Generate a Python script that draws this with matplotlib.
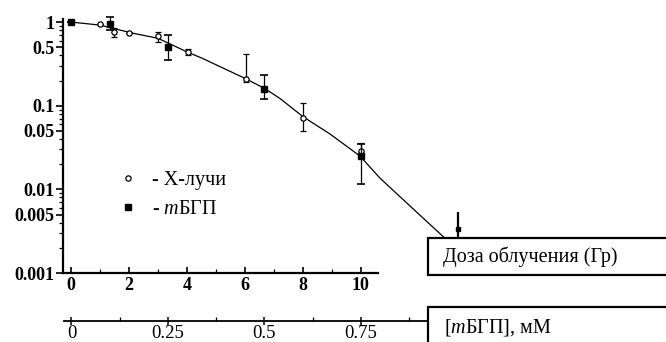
import matplotlib
matplotlib.use('Agg')
import matplotlib.pyplot as plt
from matplotlib.lines import Line2D
from matplotlib.patches import Rectangle

plt.rcParams['font.family'] = ['Liberation Serif', 'DejaVu Serif']
plt.rcParams['mathtext.fontset'] = 'custom'
plt.rcParams['mathtext.rm'] = 'Liberation Serif'
plt.rcParams['mathtext.it'] = 'Liberation Serif:italic'

# X-rays (open circles): dose (Gy), surviving fraction, error limits
xray_dose = [1.0, 1.5, 2.0, 3.0, 4.05, 6.05, 8.0, 10.0]
xray_surv = [0.95, 0.77, 0.74, 0.68, 0.435, 0.21, 0.072, 0.029]
xray_low = [0.95, 0.66, 0.74, 0.57, 0.40, 0.19, 0.050, 0.026]
xray_high = [0.95, 0.85, 0.74, 0.76, 0.48, 0.42, 0.108, 0.036]

# mBGP (filled squares): concentration (mM), surviving fraction, error limits
mbgp_conc = [0.0, 0.1, 0.25, 0.5, 0.75]
mbgp_surv = [1.0, 0.95, 0.51, 0.16, 0.025]
mbgp_low = [1.0, 0.80, 0.35, 0.12, 0.0115]
mbgp_high = [1.0, 1.15, 0.70, 0.236, 0.035]

# point at 1 mM shown as an upper limit (arrow into the box)
limit_conc = [1.0]
limit_surv = [0.0034]
limit_top = [0.0054]
limit_bottom = [0.0025]

# fitted curve
curve_dose = [0, 1.0, 2.1, 3.0, 4.03, 4.52, 6.03, 6.69, 7.21, 8.0, 8.93, 9.97, 10.66, 11.79, 12.9]
curve_surv = [1.0, 0.92, 0.74, 0.64, 0.435, 0.37, 0.21, 0.16, 0.122, 0.074, 0.046, 0.025, 0.0136, 0.0059, 0.0026]

# 0.75 mM sits under 10 Gy
dose_per_mm = 10 / 0.75

ytick_vals = [1, 0.5, 0.1, 0.05, 0.01, 0.005, 0.001]
ytick_labels = ['1', '0.5', '0.1', '0.05', '0.01', '0.005', '0.001']
xtick_vals = [0, 2, 4, 6, 8, 10]
conc_ticks = [0, 0.25, 0.5, 0.75]
conc_labels = ['0', '0.25', '0.5', '0.75']

W, H = 666, 342
fig = plt.figure(figsize=(W / 100, H / 100), dpi=100)


def fx(px):
    return px / W


def fy(py):
    return (H - py) / H


ax = fig.add_axes([fx(63), fy(273), (378 - 63) / W, (273 - 18.6) / H])
ax.set_yscale('log')
ax.set_xlim(-0.276, 10.59)
ax.set_ylim(0.001, 1.1)
for s in ['top', 'right']:
    ax.spines[s].set_visible(False)
for s in ['left', 'bottom']:
    ax.spines[s].set_linewidth(1.6)

ax.plot(curve_dose, curve_surv, color='black', lw=0.9, clip_on=False, zorder=2)

xl = [s - l for s, l in zip(xray_surv, xray_low)]
xh = [h - s for s, h in zip(xray_surv, xray_high)]
eb1 = ax.errorbar(xray_dose, xray_surv, yerr=[xl, xh], fmt='o', ms=3.8, mfc='white',
                  mec='black', mew=0.9, ecolor='black', elinewidth=0.9, capsize=2.5,
                  capthick=0.9, zorder=3)

mdose = [c * dose_per_mm for c in mbgp_conc]
ml = [s - l for s, l in zip(mbgp_surv, mbgp_low)]
mh = [h - s for s, h in zip(mbgp_surv, mbgp_high)]
eb2 = ax.errorbar(mdose, mbgp_surv, yerr=[ml, mh], fmt='s', ms=5, mfc='black',
                  mec='black', ecolor='black', elinewidth=0.9, capsize=3,
                  capthick=1.2, zorder=4)
for eb in (eb1, eb2):
    for art in eb.get_children():
        art.set_clip_on(False)

ldose = [c * dose_per_mm for c in limit_conc]
ax.vlines(ldose, limit_bottom, limit_top, color='black', lw=1.6, clip_on=False)
ax.plot(ldose, limit_surv, 's', ms=3.5, color='black', clip_on=False)

ax.set_yticks(ytick_vals)
ax.set_yticklabels(ytick_labels, fontsize=13, fontweight='bold')
ax.tick_params(axis='y', which='major', direction='out', length=5, width=1.2, pad=1)
ax.tick_params(axis='y', which='minor', direction='out', length=3, width=0.9)
ax.set_xticks(xtick_vals)
ax.set_xticks([1, 3, 5, 7, 9], minor=True)
ax.set_xticklabels([str(v) for v in xtick_vals], fontsize=13, fontweight='bold')
ax.tick_params(axis='x', which='major', direction='in', length=4, width=1.2, pad=3)
ax.tick_params(axis='x', which='minor', direction='in', length=3, width=0.9)

handles = [Line2D([], [], ls='none', marker='o', ms=3.8, mfc='white', mec='black', mew=0.9),
           Line2D([], [], ls='none', marker='s', ms=5, mfc='black', mec='black')]
fig.legend(handles, ['- X-лучи', '- $m$БГП'], loc='upper left',
           bbox_to_anchor=(fx(119), fy(171)), frameon=False, fontsize=14.5,
           handlelength=0.9, handletextpad=0.75, labelspacing=0.5,
           borderpad=0, borderaxespad=0)

# concentration axis below
ax2 = fig.add_axes([fx(64), fy(321), (427 - 64) / W, 0.001])
ax2.set_xlim(-0.0194, 0.921)
ax2.set_yticks([])
for s in ['top', 'right', 'left']:
    ax2.spines[s].set_visible(False)
ax2.spines['bottom'].set_linewidth(1.3)
ax2.patch.set_visible(False)
ax2.set_xticks(conc_ticks)
ax2.set_xticks([0.125, 0.375, 0.625, 0.875], minor=True)
ax2.set_xticklabels(conc_labels, fontsize=13.5)
ax2.tick_params(axis='x', which='major', direction='inout', length=6, width=1.1, pad=0)
ax2.tick_params(axis='x', which='minor', direction='in', length=3, width=0.9)

# label boxes
fig.patches.append(Rectangle((fx(428), fy(275)), (680 - 428) / W, 37 / H,
                             transform=fig.transFigure, fill=True, fc='white',
                             ec='black', lw=1.6, clip_on=False, zorder=5))
fig.patches.append(Rectangle((fx(428), fy(350)), (680 - 428) / W, 43 / H,
                             transform=fig.transFigure, fill=True, fc='white',
                             ec='black', lw=1.6, clip_on=False, zorder=5))
fig.text(fx(443), fy(257), 'Доза облучения (Гр)', fontsize=14.5, va='center', zorder=6)
fig.text(fx(444), fy(328), '[$m$БГП], мМ', fontsize=14.5, va='center', zorder=6)

fig.savefig('out.png', dpi=100)
